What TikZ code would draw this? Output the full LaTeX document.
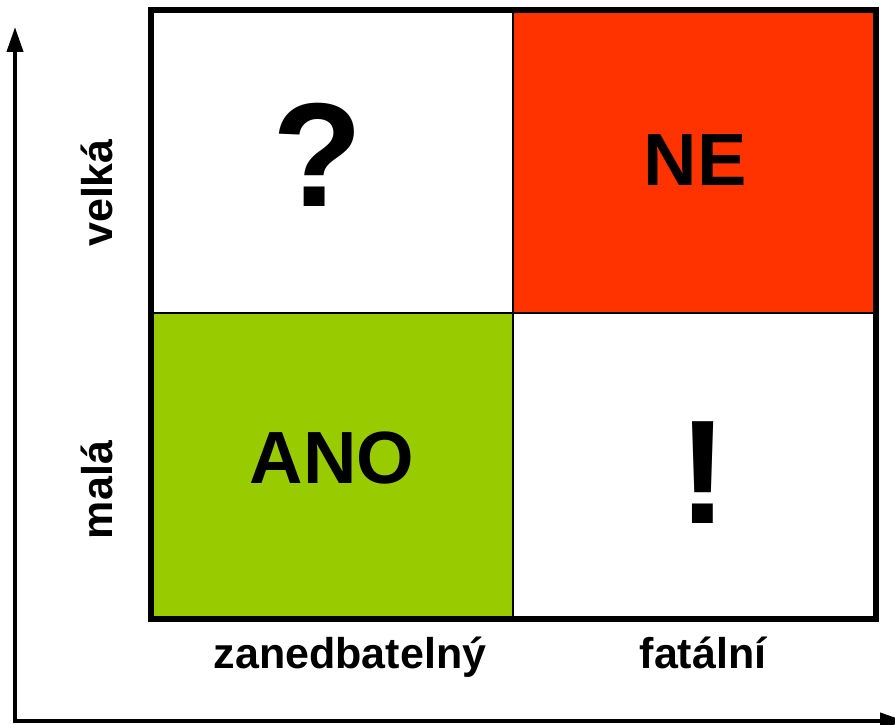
\documentclass[tikz,border=0pt]{standalone}
\usepackage{fontspec}
\setmainfont{Liberation Sans}
\usetikzlibrary{arrows.meta}
\definecolor{nered}{HTML}{FF3300}
\definecolor{anogreen}{HTML}{99CC00}

\begin{document}
\begin{tikzpicture}[x=1pt, y=-1pt,
                    big/.style = {anchor=base, inner sep=0pt, font=\bfseries\fontsize{148}{148}\selectfont},
                    word/.style = {anchor=base, inner sep=0pt, font=\bfseries\fontsize{74}{74}\selectfont},
                    axislabel/.style = {anchor=base, inner sep=0pt, font=\bfseries\fontsize{43}{43}\selectfont},
                    axis/.style = {line width=4pt, line join=miter, {Triangle[length=25pt,width=16pt]}-{Triangle[length=25pt,width=16pt]}}
                ]
                    \useasboundingbox (0,0) rectangle (895,725);

                    % cells
                    \fill[nered] (513,10) rectangle (876,313);
                    \fill[anogreen] (151,313) rectangle (513,619);
                    \draw[line width=2.5pt] (513,10) -- (513,619);
                    \draw[line width=2.5pt] (151,313) -- (876,313);
                    \draw[line width=6.5pt] (151,10) rectangle (876,619);

                    \node[big] (Q) at (318,206) {?};
                    \node[word] (NE) at (695,185) {NE};
                    \node[word] (ANO) at (332,483) {ANO};
                    \node[big] (X) at (703,523) {!};

                    % axes
                    \coordinate (O) at (15,721);
                    \coordinate (Ytip) at (15,27);
                    \coordinate (Xtip) at (905,721);
                    \draw[axis] (Ytip) -- (O) -- (Xtip);

                    \node[axislabel] (zan) at (350,668) {zanedbatelný};
                    \node[axislabel] (fat) at (703,668) {fatální};
                    \node[axislabel, rotate=90] (vel) at (112,193) {velká};
                    \node[axislabel, rotate=90] (mal) at (112,490) {malá};
                \end{tikzpicture}
\end{document}
